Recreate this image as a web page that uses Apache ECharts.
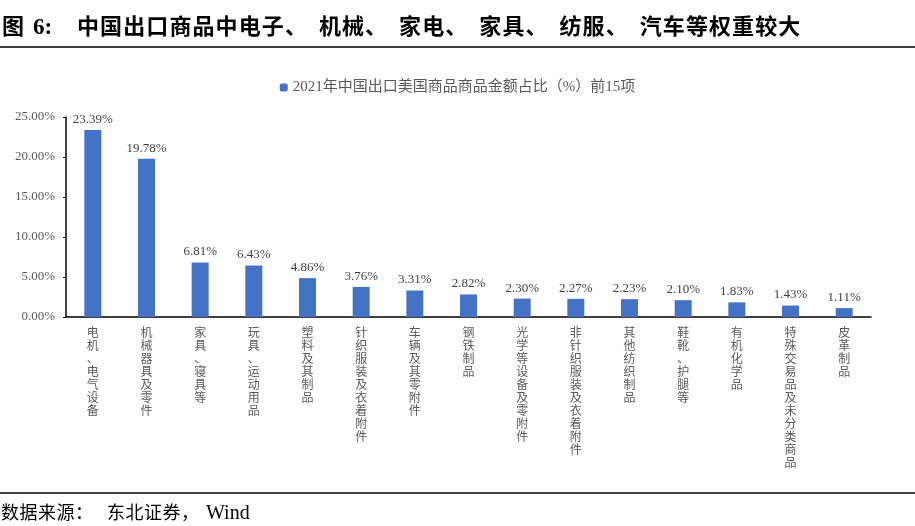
<!DOCTYPE html>
<html>
<head>
<meta charset="utf-8">
<script src="https://cdn.jsdelivr.net/npm/echarts@6/dist/echarts.min.js"></script>
<style>
html,body{margin:0;padding:0;background:#fff;}
#chart{width:915px;height:526px;}
</style>
</head>
<body>
<div id="chart"></div>
<script>
var titlePrefix = ['图', '6:'];
var titleText = '中国出口商品中电子、机械、家电、家具、纺服、汽车等权重较大';
var sourceText = '数据来源：东北证券，';
var sourceTail = 'Wind';
var seriesName = '2021年中国出口美国商品商品金额占比（%）前15项';
var categories = ['电机、电气设备','机械器具及零件','家具、寝具等','玩具、运动用品','塑料及其制品','针织服装及衣着附件','车辆及其零附件','钢铁制品','光学等设备及零附件','非针织服装及衣着附件','其他纺织制品','鞋靴、护腿等','有机化学品','特殊交易品及未分类商品','皮革制品'];
var values = [23.39,19.78,6.81,6.43,4.86,3.76,3.31,2.82,2.30,2.27,2.23,2.10,1.83,1.43,1.11];
var yTicks = [0,5,10,15,20,25];

var serif = '"Liberation Serif","Noto Sans CJK SC",serif';

function spacedText(str, x0, y, font, adv, punctAdv) {
  var out = [];
  var x = x0;
  str.split('').forEach(function(ch){
    out.push({type:'text', x:x, y:y, style:{text:ch, font:font, fill:'#000', textVerticalAlign:'middle'}});
    x += ('、：，'.indexOf(ch) >= 0) ? punctAdv[ch] : adv;
  });
  return {items:out, end:x};
}

var graphics = [];
var titleFont = 'bold 22px ' + serif;
graphics.push({type:'text', x:2, y:28, style:{text:titlePrefix[0], font:titleFont, fill:'#000', textVerticalAlign:'middle'}});
graphics.push({type:'text', x:33, y:28, style:{text:titlePrefix[1], font:'bold 23px '+serif, fill:'#000', textVerticalAlign:'middle'}});
var t = spacedText(titleText, 77, 28, titleFont, 23.1, {'、':34});
graphics = graphics.concat(t.items);
graphics.push({type:'line', shape:{x1:0,y1:47,x2:915,y2:47}, style:{stroke:'#000',lineWidth:1.5}});
graphics.push({type:'line', shape:{x1:0,y1:493,x2:915,y2:493}, style:{stroke:'#000',lineWidth:1.5}});
var srcFont = '18px ' + serif;
var s = spacedText(sourceText, 1, 514, srcFont, 18.5, {'：':32, '，':25});
graphics = graphics.concat(s.items);
graphics.push({type:'text', x:s.end, y:514, style:{text:sourceTail, font:'20px '+serif, fill:'#000', textVerticalAlign:'middle'}});

var chart = echarts.init(document.getElementById('chart'), null, {renderer:'canvas'});
chart.setOption({
  backgroundColor:'#fff',
  animation:false,
  graphic:graphics,
  legend:{
    top:75, left:'center',
    itemWidth:8, itemHeight:8, itemGap:3,
    textStyle:{color:'#595959', fontSize:15, fontFamily:serif},
    data:[seriesName]
  },
  grid:{left:66, right:44, top:117, bottom:209, containLabel:false},
  xAxis:{
    type:'category', data:categories,
    axisLine:{lineStyle:{color:'#000',width:1.5}},
    axisTick:{inside:true, length:4, lineStyle:{color:'#000'}},
    axisLabel:{
      interval:0, margin:10, color:'#595959', fontSize:12, lineHeight:13, fontFamily:serif,
      formatter:function(v){return v.split('').join('\n');}
    }
  },
  yAxis:{
    type:'value', min:yTicks[0], max:yTicks[yTicks.length-1], interval:5,
    axisLine:{show:true, lineStyle:{color:'#000',width:1.5}},
    axisTick:{show:true, length:3, lineStyle:{color:'#000'}},
    splitLine:{show:false},
    axisLabel:{margin:11, color:'#595959', fontSize:13, fontFamily:serif,
      formatter:function(v){return v.toFixed(2)+'%';}}
  },
  series:[{
    name:seriesName, type:'bar', data:values, barWidth:17,
    itemStyle:{color:'#4472C4'},
    label:{show:true, position:'top', distance:4, color:'#404040', fontSize:13, fontFamily:serif,
      formatter:function(p){return p.value.toFixed(2)+'%';}}
  }]
});
</script>
</body>
</html>
